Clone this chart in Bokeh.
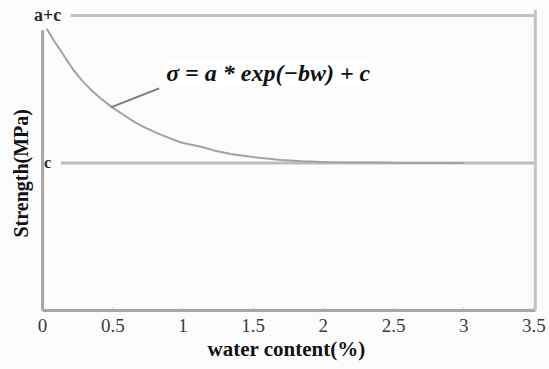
import math
from bokeh.plotting import figure
from bokeh.models import Range1d, FixedTicker, Label, Span, Title
from bokeh.embed import file_html
from bokeh.resources import INLINE

# strength vs water content
water = [0.03, 0.08, 0.13, 0.17, 0.22, 0.28, 0.34, 0.41, 0.49, 0.57, 0.65, 0.73, 0.82,
         0.90, 0.98, 1.05, 1.13, 1.22, 1.34, 1.50, 1.70, 1.85, 2.05, 2.5, 3.0]
strength = [1.91, 1.83, 1.76, 1.70, 1.63, 1.56, 1.50, 1.44, 1.38, 1.33, 1.28, 1.24, 1.20,
            1.17, 1.14, 1.125, 1.11, 1.085, 1.06, 1.04, 1.02, 1.012, 1.005, 1.002, 1.0]

# reference levels on the strength axis
level_c = 1.0
level_ac = 2.0
level_names = ["c", "a+c"]

x_ticks = [0, 0.5, 1, 1.5, 2, 2.5, 3, 3.5]
x_tick_labels = ["0", "0.5", "1", "1.5", "2", "2.5", "3", "3.5"]

# leader from the curve to the equation
leader_w = [0.49, 0.83]
leader_s = [1.378, 1.505]
equation = "σ = a * exp(−bw) + c"

SERIF = "Liberation Serif"
AXIS_GRAY = "#a6a6a6"
BG = "#fcfcfc"

# the frame reaches the left edge so the y-axis texts can sit inside it
p = figure(width=549, height=369, output_backend="svg", toolbar_location=None,
           x_range=Range1d(-0.3, 3.54), y_range=Range1d(0, 2.04),
           min_border_left=0, min_border_right=10, min_border_top=9, min_border_bottom=59)
p.background_fill_color = BG
p.border_fill_color = BG
p.outline_line_color = None
p.xgrid.visible = False
p.ygrid.visible = False
p.yaxis.visible = False

# x axis
xa = p.xaxis[0]
xa.ticker = FixedTicker(ticks=x_ticks)
xa.major_label_overrides = {t: s for t, s in zip(x_ticks, x_tick_labels)}
xa.bounds = (0, 3.51)
xa.axis_line_color = AXIS_GRAY
xa.axis_line_width = 3
xa.major_tick_in = 2
xa.major_tick_out = 0
xa.major_tick_line_color = AXIS_GRAY
xa.major_tick_line_width = 2
xa.minor_tick_line_color = None
xa.major_label_standoff = 8
xa.major_label_text_font = SERIF
xa.major_label_text_font_size = "19px"
xa.major_label_text_color = "#3c3c3c"

# x axis title, placed under the axis starting near w = 1.18
p.add_layout(Title(text="water content(%)", align="left", offset=207, standoff=0,
                   text_font=SERIF, text_font_style="bold", text_font_size="21px",
                   text_color="#111111"), "below")

# y axis line
p.segment(x0=[0], y0=[0], x1=[0], y1=[1.9], line_color=AXIS_GRAY, line_width=3)

# right border
p.add_layout(Span(location=3.51, dimension="height", line_color="#c4c4c4", line_width=3))

# horizontal reference lines at c and a+c
p.segment(x0=[0.13, 0.2], y0=[level_c, level_ac], x1=[3.51, 3.51], y1=[level_c, level_ac],
          line_color=["#bdbdbd", "#c2c2c2"], line_width=3)

# fitted curve
p.line(water, strength, line_color="#a2a2a2", line_width=2)

# leader line to the equation
p.line(leader_w, leader_s, line_color="#7a7a7a", line_width=2)

p.add_layout(Label(x=leader_w[1] + 0.05, y=1.61, text=equation,
                   text_font=SERIF, text_font_style="bold italic", text_font_size="24px",
                   text_color="#111111", text_align="left", text_baseline="middle",
                   background_fill_color="#ffffff"))

# level labels sitting on the y axis
for lvl, name, size in zip([level_c, level_ac], level_names, ["16px", "18px"]):
    p.add_layout(Label(x=0, y=lvl, x_offset=5, text=name, text_font=SERIF,
                       text_font_style="bold", text_font_size=size, text_color="#2a2a2a",
                       text_align="center", text_baseline="middle",
                       background_fill_color=BG))

# y axis title
p.add_layout(Label(x=0, y=0.93, x_offset=-22, text="Strength(MPa)", angle=math.pi / 2,
                   text_font=SERIF, text_font_style="bold", text_font_size="20px",
                   text_color="#111111", text_align="center", text_baseline="middle"))

open("out.html", "w").write(file_html(p, INLINE))
